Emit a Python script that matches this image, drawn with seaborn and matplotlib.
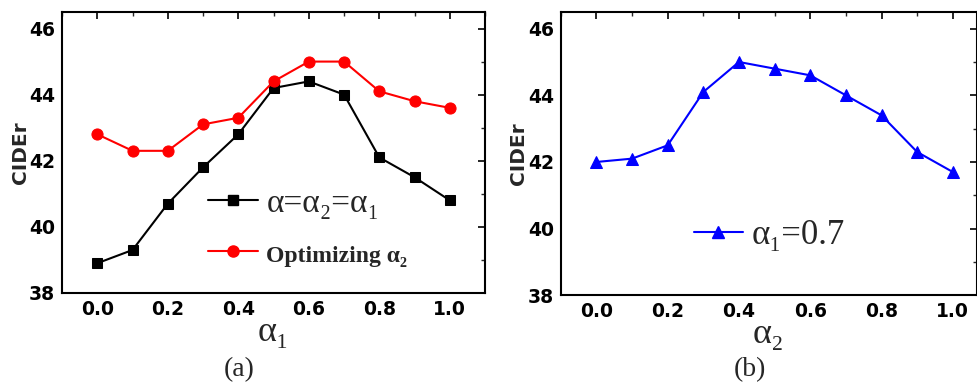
import matplotlib
matplotlib.use("Agg")
import matplotlib.pyplot as plt
import seaborn as sns
import pandas as pd
from matplotlib.ticker import MultipleLocator
from matplotlib.lines import Line2D

sns.set_theme(style="white")
plt.rcParams['font.family'] = ['DejaVu Sans']

alpha_vals = [0.0, 0.1, 0.2, 0.3, 0.4, 0.5, 0.6, 0.7, 0.8, 0.9, 1.0]
equal_alpha = [38.9, 39.3, 40.7, 41.8, 42.8, 44.2, 44.4, 44.0, 42.1, 41.5, 40.8]
optimizing_alpha2 = [42.8, 42.3, 42.3, 43.1, 43.3, 44.4, 45.0, 45.0, 44.1, 43.8, 43.6]
alpha1_fixed = [42.0, 42.1, 42.5, 44.1, 45.0, 44.8, 44.6, 44.0, 43.4, 42.3, 41.7]
x_ticks = [0.0, 0.2, 0.4, 0.6, 0.8, 1.0]
x_tick_labels = ['0.0', '0.2', '0.4', '0.6', '0.8', '1.0']
y_ticks = [38, 40, 42, 44, 46]
y_tick_labels = ['38', '40', '42', '44', '46']

label_eq = 'α=α₂=α₁'
label_opt = 'Optimizing α₂'
label_fix = 'α₁=0.7'

SERIF = ['Liberation Serif', 'DejaVu Serif']

fig = plt.figure(figsize=(9.77, 3.87), dpi=100)
ax1 = fig.add_axes([0.0635, 0.243, 0.433, 0.726])
ax2 = fig.add_axes([0.574, 0.237, 0.426, 0.732])

df_a = pd.DataFrame({'x': alpha_vals, 'eq': equal_alpha, 'opt': optimizing_alpha2})
df_b = pd.DataFrame({'x': alpha_vals, 'fix': alpha1_fixed})

sns.lineplot(data=df_a, x='x', y='eq', ax=ax1, color='black', marker='s',
             markersize=6.5, linewidth=1.5, markeredgecolor='black')
sns.lineplot(data=df_a, x='x', y='opt', ax=ax1, color='red', marker='o',
             markersize=8, linewidth=1.5, markeredgecolor='red')
sns.lineplot(data=df_b, x='x', y='fix', ax=ax2, color='blue', marker='^',
             markersize=8.5, linewidth=1.5, markeredgecolor='blue')

for ax, xmax, xl, ylx in [(ax1, 1.1, 'α₁', -0.099), (ax2, 1.068, 'α₂', -0.101)]:
    ax.set_xlim(-0.1, xmax)
    ax.set_ylim(38, 46.5)
    ax.xaxis.set_minor_locator(MultipleLocator(0.1))
    ax.yaxis.set_minor_locator(MultipleLocator(1))
    ax.set_xticks(x_ticks)
    ax.set_xticklabels(x_tick_labels)
    ax.set_yticks(y_ticks)
    ax.set_yticklabels(y_tick_labels)
    ax.tick_params(axis='both', which='major', direction='in', length=5, width=1.2,
                   colors='black', pad=5, labelsize=13.5)
    ax.tick_params(axis='both', which='minor', direction='in', length=3, width=1.0)
    ax.tick_params(top=True, right=True, which='both')
    for lab in ax.get_xticklabels() + ax.get_yticklabels():
        lab.set_fontweight('bold')
    for s in ax.spines.values():
        s.set_color('black')
        s.set_linewidth(1.5)
    ax.set_ylabel('CIDEr', fontsize=14.5, fontweight='bold')
    ax.yaxis.set_label_coords(ylx, 0.5)
    ax.yaxis.label.set_va('center')
    ax.set_xlabel(xl, fontsize=26, family=SERIF)
    ax.xaxis.set_label_coords(0.5, -0.14)
    ax.xaxis.label.set_va('center')
    ax.grid(False)

h1 = [Line2D([], [], color='black', marker='s', markersize=6.5, linewidth=1.5),
      Line2D([], [], color='red', marker='o', markersize=8, linewidth=1.5)]
leg1 = ax1.legend(h1, [label_eq, label_opt], loc='center left',
                  bbox_to_anchor=(0.345, 0.232), frameon=False, handlelength=1.5,
                  handletextpad=0.25, labelspacing=0.6, borderaxespad=0, borderpad=0,
                  prop={'family': SERIF, 'size': 24})
texts = leg1.get_texts()
texts[1].set_fontsize(17)
texts[1].set_fontweight('bold')

h2 = [Line2D([], [], color='blue', marker='^', markersize=8.5, linewidth=1.5)]
leg2 = ax2.legend(h2, [label_fix], loc='center left', bbox_to_anchor=(0.32, 0.212),
                  frameon=False, handlelength=1.4, handletextpad=0.25, borderaxespad=0,
                  borderpad=0, prop={'family': SERIF, 'size': 25})

fig.text(0.245, 0.045, '(a)', fontsize=20, family=SERIF, ha='center', va='center')
fig.text(0.768, 0.045, '(b)', fontsize=20, family=SERIF, ha='center', va='center')

fig.savefig('out.png', dpi=100)
